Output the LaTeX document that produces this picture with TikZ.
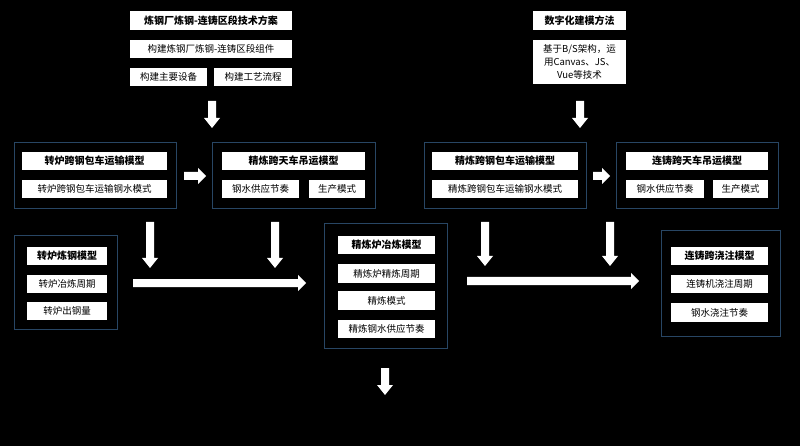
\documentclass[tikz,border=0pt]{standalone}
\usepackage{fontspec}
\setmainfont{Liberation Serif}
\newfontfamily\cjk{Noto Sans CJK SC}
\begin{document}
\begin{tikzpicture}[x=1pt,y=-1pt,
  box/.style={fill=white,draw=none,inner sep=0pt,font=\cjk\fontsize{9.5}{12}\selectfont,text=black,align=center},
  grp/.style={draw={rgb,255:red,40;green,70;blue,100},line width=0.8pt,fill=black},
  blk/.style={fill=white,draw=none}]
\fill[black] (0,0) rectangle (800,446);
\newcommand\bx[7][]{\node[box,#1,minimum width={(#5-#3)*1pt},minimum height={(#6-#4)*1pt}] (#2) at ({(#3+#5)/2},{(#4+#6)/2}) {#7};}
\newcommand\grpbox[5]{\draw[grp] (#2,#3) rectangle (#4,#5); \coordinate (#1) at ({(#2+#4)/2},{(#3+#5)/2});}
% down arrow: x, y1, y2
\newcommand\darr[3]{\fill[blk] ({#1-4},#2) -- ({#1+4},#2) -- ({#1+4},{#3-10}) -- ({#1+8},{#3-10}) -- (#1,#3) -- ({#1-8},{#3-10}) -- ({#1-4},{#3-10}) -- cycle;}
% right arrow: y, x1, x2
\newcommand\rarr[3]{\fill[blk] (#2,{#1-4}) -- (#2,{#1+4}) -- ({#3-8},{#1+4}) -- ({#3-8},{#1+8}) -- (#3,#1) -- ({#3-8},{#1-8}) -- ({#3-8},{#1-4}) -- cycle;}
% top left
\bx[font=\cjk\bfseries\fontsize{10}{12}\selectfont]{t1}{130}{11}{292}{30}{炼钢厂炼钢-连铸区段技术方案}
\bx{t2}{130}{40}{292}{58}{构建炼钢厂炼钢-连铸区段组件}
\bx{t3}{130}{68}{207}{86}{构建主要设备}
\bx{t4}{214}{68}{292}{86}{构建工艺流程}
\darr{212}{101}{128}
% top right
\bx[font=\cjk\bfseries\fontsize{10}{12}\selectfont]{r1}{533}{11}{626}{30}{数字化建模方法}
\bx[text width=90pt,font=\cjk\fontsize{9.5}{13}\selectfont]{r2}{533}{40}{626}{84}{基于B/S架构，运\\用Canvas、JS、\\Vue等技术}
\darr{580}{101}{128}
% row 1 groups
\grpbox{g1}{14}{142}{176}{208}
\bx[font=\cjk\bfseries\fontsize{10}{12}\selectfont]{g1a}{22}{152}{167}{170}{转炉跨钢包车运输模型}
\bx{g1b}{22}{180}{167}{198}{转炉跨钢包车运输钢水模式}
\rarr{176}{184}{206}
\grpbox{g2}{212}{142}{375}{208}
\bx[font=\cjk\bfseries\fontsize{10}{12}\selectfont]{g2a}{222}{152}{365}{170}{精炼跨天车吊运模型}
\bx{g2b}{222}{180}{299}{198}{钢水供应节奏}
\bx{g2c}{309}{180}{365}{198}{生产模式}
\grpbox{g3}{424}{142}{586}{208}
\bx[font=\cjk\bfseries\fontsize{10}{12}\selectfont]{g3a}{432}{152}{578}{170}{精炼跨钢包车运输模型}
\bx{g3b}{432}{180}{578}{198}{精炼跨钢包车运输钢水模式}
\rarr{176}{593}{610}
\grpbox{g4}{616}{142}{778}{208}
\bx[font=\cjk\bfseries\fontsize{10}{12}\selectfont]{g4a}{626}{152}{768}{170}{连铸跨天车吊运模型}
\bx{g4b}{626}{180}{704}{198}{钢水供应节奏}
\bx{g4c}{713}{180}{768}{198}{生产模式}
% row 2
\darr{150}{222}{268}
\darr{275}{222}{268}
\darr{485}{222}{266}
\darr{610}{222}{266}
\grpbox{g5}{14}{235}{117}{329}
\bx[font=\cjk\bfseries\fontsize{10}{12}\selectfont]{g5a}{27}{247}{107}{265}{转炉炼钢模型}
\bx{g5b}{27}{275}{107}{293}{转炉冶炼周期}
\bx{g5c}{27}{302}{107}{320}{转炉出钢量}
\rarr{283}{133}{306}
\grpbox{g6}{324}{223}{447}{348}
\bx[font=\cjk\bfseries\fontsize{10}{12}\selectfont]{g6a}{338}{236}{435}{254}{精炼炉冶炼模型}
\bx{g6b}{338}{264}{435}{283}{精炼炉精炼周期}
\bx{g6c}{338}{291}{435}{310}{精炼模式}
\bx{g6d}{338}{320}{435}{338}{精炼钢水供应节奏}
\rarr{281}{467}{639}
\grpbox{g7}{661}{230}{780}{336}
\bx[font=\cjk\bfseries\fontsize{10}{12}\selectfont]{g7a}{671}{247}{768}{265}{连铸跨浇注模型}
\bx{g7b}{671}{275}{768}{293}{连铸机浇注周期}
\bx{g7c}{671}{303}{768}{322}{钢水浇注节奏}
\darr{385}{368}{395}
\end{tikzpicture}
\end{document}
